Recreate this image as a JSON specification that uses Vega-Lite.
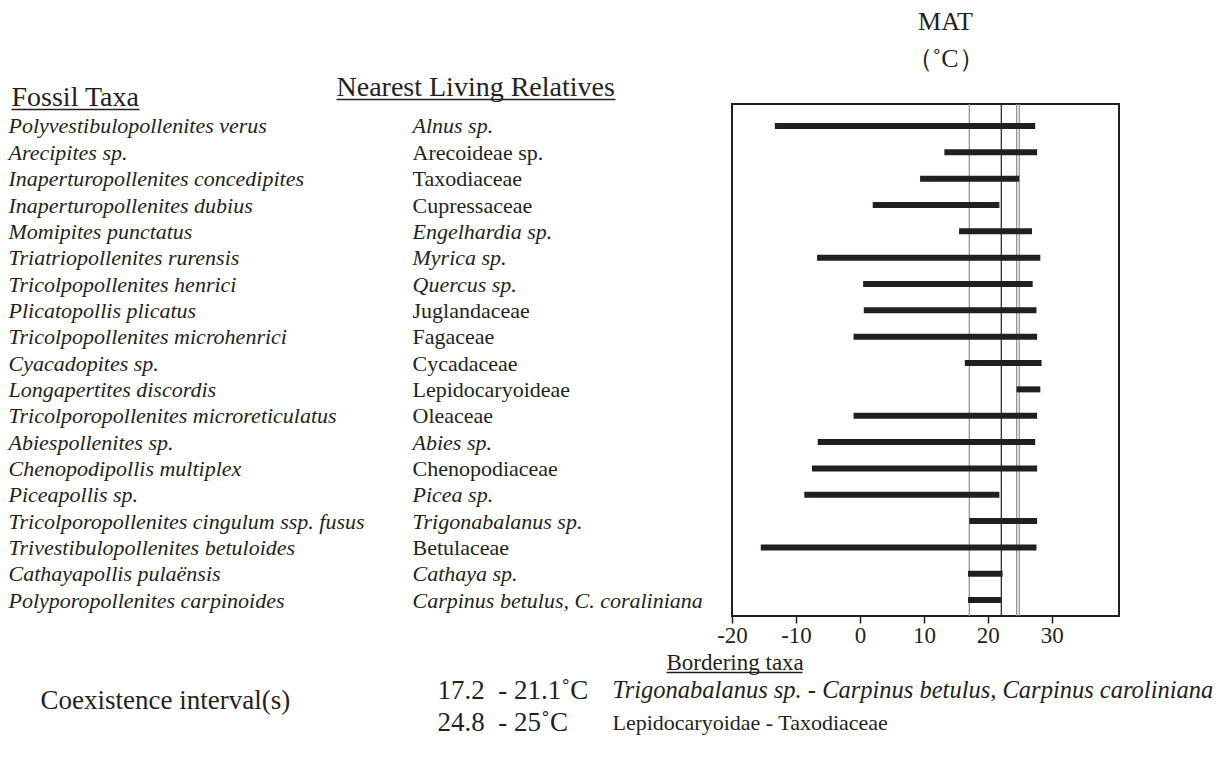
{
  "$schema": "https://vega.github.io/schema/vega-lite/v6.json",
  "width": 387,
  "height": 512,
  "autosize": {"type": "none"},
  "padding": {"left": 732, "top": 104, "right": 110, "bottom": 151},
  "background": "white",
  "title": {"text": "MAT", "subtitle": "（˚C）", "anchor": "middle", "frame": "group", "dx": 20, "offset": 1, "font": "Liberation Serif", "fontSize": 26, "fontWeight": "normal", "color": "#231f20", "subtitleFont": "Liberation Serif", "subtitleFontSize": 26, "subtitleColor": "#231f20", "subtitlePadding": 11},
  "config": {
    "view": {"stroke": "#231f20", "strokeWidth": 2},
    "axis": {"labelFont": "Liberation Serif", "labelColor": "#231f20", "domain": false, "grid": false, "ticks": false, "tickSize": 0, "labelLimit": 2000, "labelOverlap": false, "labelFlush": false, "title": null, "labelFontSize": 22}
  },
  "resolve": {"scale": {"y": "independent"}, "axis": {"y": "independent"}},
  "layer": [
    {
      "data": {"values": [
        {"limit": "17.2", "t": 17.1},
        {"limit": "21.1", "t": 22.1},
        {"limit": "24.8", "t": 24.5},
        {"limit": "25", "t": 24.9}
      ]},
      "mark": {"type": "rule", "strokeWidth": 1.2},
      "encoding": {
        "x": {"field": "t", "type": "quantitative", "scale": {"domain": [-20, 40.5], "nice": false, "zero": false}},
        "color": {"condition": {"test": "datum.t > 20 && datum.t < 23", "value": "#231f20"}, "value": "#8c8c8c"}
      }
    },
    {
      "data": {"name": "taxa"},
      "mark": {"type": "rule", "strokeWidth": 6, "strokeCap": "butt", "color": "#231f20"},
      "encoding": {
        "y": {"field": "nlr", "type": "nominal", "sort": null, "scale": {"type": "point", "padding": 0.72, "align": 0.58},
          "axis": {"orient": "left", "labelAlign": "left", "labelPadding": 320, "labelBaseline": "middle",
            "labelFontStyle": {"condition": {"test": "test(/eae/, datum.label)", "value": "normal"}, "value": "italic"}}},
        "x": {"field": "lo", "type": "quantitative", "scale": {"domain": [-20, 40.5], "nice": false, "zero": false},
          "axis": {"orient": "bottom", "values": [-20, -10, 0, 10, 20, 30], "ticks": true, "tickSize": 7, "tickWidth": 1.5, "tickColor": "#231f20", "labelFontSize": 23, "labelPadding": 1, "labelFlush": false, "labelExpr": "'' + datum.value"}},
        "x2": {"field": "hi"}
      }
    },
    {
      "data": {"name": "taxa"},
      "mark": {"type": "point", "opacity": 0},
      "encoding": {
        "y": {"field": "fossil", "type": "nominal", "sort": null, "scale": {"type": "point", "padding": 0.72, "align": 0.58},
          "axis": {"orient": "left", "labelAlign": "left", "labelPadding": 724, "labelBaseline": "middle", "labelFontStyle": "italic"}},
        "x": {"field": "lo", "type": "quantitative"}
      }
    },
    {
      "data": {"values": [{"heading": "Fossil Taxa"}]},
      "mark": {"type": "point", "opacity": 0},
      "encoding": {
        "y": {"field": "heading", "type": "nominal", "scale": {"type": "point", "range": [5, 5]},
          "axis": {"orient": "left", "offset": 593, "ticks": true, "tickSize": 128, "tickWidth": 1.5, "tickColor": "#231f20", "labelAlign": "left", "labelPadding": 0, "labelBaseline": "alphabetic", "labelOffset": -4, "labelFontSize": 28}}
      }
    },
    {
      "data": {"values": [{"heading": "Nearest Living Relatives"}]},
      "mark": {"type": "point", "opacity": 0},
      "encoding": {
        "y": {"field": "heading", "type": "nominal", "scale": {"type": "point", "range": [-5, -5]},
          "axis": {"orient": "left", "offset": 117, "ticks": true, "tickSize": 279, "tickWidth": 1.5, "tickColor": "#231f20", "labelAlign": "left", "labelPadding": 0, "labelBaseline": "alphabetic", "labelOffset": -4, "labelFontSize": 28}}
      }
    },
    {
      "data": {"values": [{"heading": "Bordering taxa"}]},
      "mark": {"type": "point", "opacity": 0},
      "encoding": {
        "y": {"field": "heading", "type": "nominal", "scale": {"type": "point", "range": [568, 568]},
          "axis": {"orient": "left", "offset": -70, "ticks": true, "tickSize": 136, "tickWidth": 1.5, "tickColor": "#231f20", "labelAlign": "left", "labelPadding": 0, "labelBaseline": "alphabetic", "labelOffset": -3, "labelFontSize": 23}}
      }
    },
    {
      "data": {"values": [{"caption": "Coexistence interval(s)"}]},
      "mark": {"type": "point", "opacity": 0},
      "encoding": {
        "y": {"field": "caption", "type": "nominal", "scale": {"type": "point", "range": [596, 596]},
          "axis": {"orient": "left", "labelAlign": "left", "labelPadding": 692, "labelBaseline": "middle", "labelFontSize": 27}}
      }
    },
    {
      "data": {"name": "intervals"},
      "mark": {"type": "point", "opacity": 0},
      "encoding": {
        "y": {"field": "interval", "type": "nominal", "sort": null, "scale": {"type": "point", "range": [586, 618], "padding": 0},
          "axis": {"orient": "left", "labelAlign": "left", "labelPadding": 295, "labelBaseline": "middle", "labelFontSize": 27}}
      }
    },
    {
      "data": {"name": "intervals"},
      "mark": {"type": "point", "opacity": 0},
      "encoding": {
        "y": {"field": "bordering", "type": "nominal", "sort": null, "scale": {"type": "point", "range": [586, 618], "padding": 0},
          "axis": {"orient": "left", "labelAlign": "left", "labelPadding": 120, "labelBaseline": "middle",
            "labelFontSize": {"condition": {"test": "test(/Lepido/, datum.label)", "value": 22}, "value": 24.5},
            "labelFontStyle": {"condition": {"test": "test(/Lepido/, datum.label)", "value": "normal"}, "value": "italic"}}}
      }
    }
  ],
  "datasets": {
    "taxa": [
      {"fossil": "Polyvestibulopollenites verus", "nlr": "Alnus sp.", "lo": -13.3, "hi": 27.4},
      {"fossil": "Arecipites sp.", "nlr": "Arecoideae sp.", "lo": 13.2, "hi": 27.7},
      {"fossil": "Inaperturopollenites concedipites", "nlr": "Taxodiaceae", "lo": 9.4, "hi": 24.9},
      {"fossil": "Inaperturopollenites dubius", "nlr": "Cupressaceae", "lo": 2.0, "hi": 21.8},
      {"fossil": "Momipites punctatus", "nlr": "Engelhardia sp.", "lo": 15.5, "hi": 26.9},
      {"fossil": "Triatriopollenites rurensis", "nlr": "Myrica sp.", "lo": -6.7, "hi": 28.2},
      {"fossil": "Tricolpopollenites henrici", "nlr": "Quercus sp.", "lo": 0.5, "hi": 27.0},
      {"fossil": "Plicatopollis plicatus", "nlr": "Juglandaceae", "lo": 0.6, "hi": 27.6},
      {"fossil": "Tricolpopollenites microhenrici", "nlr": "Fagaceae", "lo": -1.0, "hi": 27.7},
      {"fossil": "Cyacadopites sp.", "nlr": "Cycadaceae", "lo": 16.4, "hi": 28.4},
      {"fossil": "Longapertites discordis", "nlr": "Lepidocaryoideae", "lo": 24.5, "hi": 28.2},
      {"fossil": "Tricolporopollenites microreticulatus", "nlr": "Oleaceae", "lo": -1.0, "hi": 27.7},
      {"fossil": "Abiespollenites sp.", "nlr": "Abies sp.", "lo": -6.6, "hi": 27.4},
      {"fossil": "Chenopodipollis multiplex", "nlr": "Chenopodiaceae", "lo": -7.5, "hi": 27.7},
      {"fossil": "Piceapollis sp.", "nlr": "Picea sp.", "lo": -8.7, "hi": 21.8},
      {"fossil": "Tricolporopollenites cingulum ssp. fusus", "nlr": "Trigonabalanus sp.", "lo": 17.1, "hi": 27.7},
      {"fossil": "Trivestibulopollenites betuloides", "nlr": "Betulaceae", "lo": -15.5, "hi": 27.6},
      {"fossil": "Cathayapollis pulaënsis", "nlr": "Cathaya sp.", "lo": 16.9, "hi": 22.3},
      {"fossil": "Polyporopollenites carpinoides", "nlr": "Carpinus betulus, C. coraliniana", "lo": 16.9, "hi": 22.1}
    ],
    "intervals": [
      {"interval": "17.2\u00a0 - 21.1˚C", "bordering": "Trigonabalanus sp. - Carpinus betulus, Carpinus caroliniana"},
      {"interval": "24.8\u00a0 - 25˚C", "bordering": "Lepidocaryoidae - Taxodiaceae"}
    ]
  }
}
